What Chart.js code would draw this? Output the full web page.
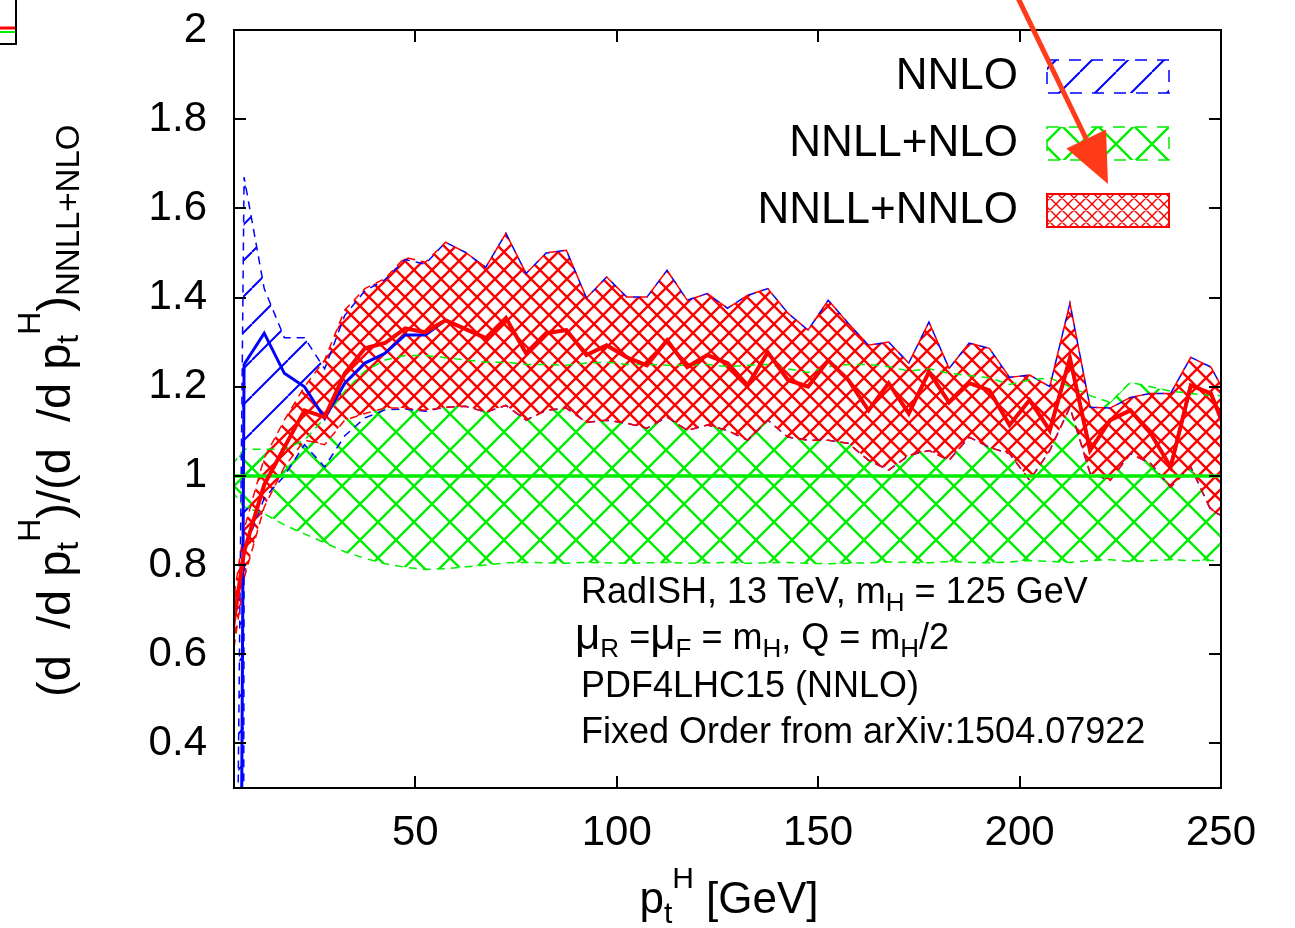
<!DOCTYPE html>
<html>
<head>
<meta charset="utf-8">
<script src="https://cdn.jsdelivr.net/npm/chart.js@4.4.1/dist/chart.umd.min.js"></script>
<style>
  html, body { margin: 0; padding: 0; background: #fff; }
  canvas { display: block; }
</style>
</head>
<body>
<canvas id="c" width="1295" height="928" style="width:1295px;height:928px"></canvas>
<script>
// ---------- data ----------
const ptBins = [2.5, 7.5, 12.5, 17.5, 22.5, 27.5, 32.5, 37.5, 42.5, 47.5, 52.5, 57.5, 62.5, 67.5, 72.5, 77.5, 82.5, 87.5, 92.5, 97.5,
  102.5, 107.5, 112.5, 117.5, 122.5, 127.5, 132.5, 137.5, 142.5, 147.5, 152.5, 157.5, 162.5, 167.5, 172.5, 177.5, 182.5, 187.5, 192.5, 197.5,
  202.5, 207.5, 212.5, 217.5, 222.5, 227.5, 232.5, 237.5, 242.5, 247.5, 252.5];

// NNLL+NNLO (red)
const nnllnnloCentral = [0.52, 0.83, 0.98, 1.064, 1.147, 1.132, 1.23, 1.286, 1.298, 1.331, 1.322, 1.349, 1.329, 1.309, 1.354, 1.275, 1.32, 1.327, 1.271, 1.293,
  1.266, 1.248, 1.304, 1.244, 1.271, 1.253, 1.203, 1.277, 1.215, 1.2, 1.259, 1.215, 1.147, 1.208, 1.14, 1.233, 1.165, 1.208, 1.192, 1.114,
  1.17, 1.102, 1.264, 1.057, 1.125, 1.147, 1.096, 1.02, 1.203, 1.185, 1.07];
const nnllnnloUpper = [0.58, 0.88, 1.04, 1.125, 1.2, 1.26, 1.372, 1.42, 1.443, 1.49, 1.479, 1.524, 1.501, 1.468, 1.544, 1.454, 1.5, 1.506, 1.399, 1.446,
  1.401, 1.401, 1.461, 1.394, 1.409, 1.376, 1.405, 1.42, 1.365, 1.327, 1.394, 1.342, 1.293, 1.3, 1.253, 1.345, 1.241, 1.298, 1.286, 1.221,
  1.226, 1.2, 1.387, 1.154, 1.152, 1.176, 1.185, 1.185, 1.266, 1.244, 1.16];
const nnllnnloLower = [0.46, 0.77, 0.93, 1.02, 1.08, 1.07, 1.125, 1.14, 1.152, 1.152, 1.147, 1.154, 1.156, 1.143, 1.158, 1.125, 1.147, 1.152, 1.12, 1.125,
  1.118, 1.107, 1.132, 1.102, 1.114, 1.102, 1.08, 1.125, 1.087, 1.08, 1.08, 1.073, 1.035, 1.013, 1.046, 1.057, 1.035, 1.087, 1.064, 1.05,
  0.99, 1.057, 1.154, 1.006, 0.99, 1.05, 1.028, 0.975, 1.02, 0.923, 0.9];

// NNLO fixed order (blue)
const nnloCentral = [-7, 1.25, 1.32, 1.23, 1.2, 1.129, 1.208, 1.253, 1.275, 1.316, 1.316, 1.349, 1.329, 1.309, 1.354, 1.275, 1.32, 1.327, 1.271, 1.293,
  1.266, 1.248, 1.304, 1.244, 1.271, 1.253, 1.203, 1.277, 1.215, 1.2, 1.259, 1.215, 1.147, 1.208, 1.14, 1.233, 1.165, 1.208, 1.192, 1.114,
  1.17, 1.102, 1.264, 1.057, 1.125, 1.147, 1.096, 1.02, 1.203, 1.185, 1.07];
const nnloUpper = [-3, 1.67, 1.42, 1.31, 1.31, 1.24, 1.36, 1.415, 1.44, 1.485, 1.475, 1.524, 1.501, 1.468, 1.544, 1.454, 1.5, 1.506, 1.399, 1.446,
  1.401, 1.401, 1.461, 1.394, 1.409, 1.376, 1.405, 1.42, 1.365, 1.327, 1.394, 1.342, 1.293, 1.3, 1.253, 1.345, 1.241, 1.298, 1.286, 1.221,
  1.226, 1.2, 1.387, 1.154, 1.152, 1.176, 1.185, 1.185, 1.266, 1.244, 1.16];
const nnloLower = [-30, 0.83, 0.95, 1.0, 1.07, 1.02, 1.09, 1.13, 1.148, 1.15, 1.145, 1.154, 1.156, 1.143, 1.158, 1.125, 1.147, 1.152, 1.12, 1.125,
  1.118, 1.107, 1.132, 1.102, 1.114, 1.102, 1.08, 1.125, 1.087, 1.08, 1.08, 1.073, 1.035, 1.013, 1.046, 1.057, 1.035, 1.087, 1.064, 1.05,
  0.99, 1.057, 1.154, 1.006, 0.99, 1.05, 1.028, 0.975, 1.02, 0.923, 0.9];

// NNLL+NLO (green), normalisation
const nnllnloX = [2.5, 252.5];
const nnllnloCentral = [1, 1];
const nnllnloUpper = [1.0, 1.06, 1.06, 1.06, 1.08, 1.13, 1.19, 1.235, 1.26, 1.27, 1.27, 1.265, 1.26, 1.255, 1.255, 1.25, 1.25, 1.248, 1.253, 1.255,
  1.25, 1.25, 1.248, 1.248, 1.25, 1.245, 1.248, 1.25, 1.24, 1.232, 1.245, 1.25, 1.25, 1.245, 1.235, 1.24, 1.23, 1.225, 1.22, 1.205,
  1.215, 1.22, 1.2, 1.18, 1.165, 1.21, 1.2, 1.19, 1.185, 1.18, 1.18];
const nnllnloLower = [0.99, 0.93, 0.915, 0.89, 0.87, 0.85, 0.83, 0.815, 0.803, 0.795, 0.79, 0.792, 0.796, 0.8, 0.805, 0.806, 0.805, 0.804, 0.806, 0.805,
  0.804, 0.805, 0.806, 0.804, 0.805, 0.806, 0.804, 0.805, 0.806, 0.804, 0.803, 0.804, 0.805, 0.807, 0.806, 0.805, 0.808, 0.806, 0.805, 0.807,
  0.81, 0.808, 0.806, 0.81, 0.812, 0.808, 0.81, 0.812, 0.81, 0.81, 0.81];

const xTicks = [50, 100, 150, 200, 250];
const xTickLabels = ['50', '100', '150', '200', '250'];
const yTicks = [0.4, 0.6, 0.8, 1.0, 1.2, 1.4, 1.6, 1.8, 2.0];
const yTickLabels = ['0.4', '0.6', '0.8', '1', '1.2', '1.4', '1.6', '1.8', '2'];
const legendLabels = ['NNLO', 'NNLL+NLO', 'NNLL+NNLO'];
const infoLines = ['RadISH, 13 TeV, m', 'PDF4LHC15 (NNLO)', 'Fixed Order from arXiv:1504.07922'];

// ---------- styling ----------
const FF = '"Liberation Sans", Arial, Helvetica, sans-serif';
const RED = '#ff0000', GREEN = '#00ee00', BLUE = '#0000ff';

function hatch(color, s, lw, slash, back, bg) {
  const c = document.createElement('canvas');
  c.width = s; c.height = s;
  const g = c.getContext('2d');
  if (bg) { g.fillStyle = bg; g.fillRect(0, 0, s, s); }
  g.strokeStyle = color; g.lineWidth = lw;
  g.beginPath();
  for (let k = -1; k <= 1; k++) {
    if (slash) { g.moveTo(k * s, s); g.lineTo(k * s + s, 0); }
    if (back) { g.moveTo(k * s, 0); g.lineTo(k * s + s, s); }
  }
  g.stroke();
  return g.createPattern(c, 'repeat');
}
const canvas = document.getElementById('c');
const ctx = canvas.getContext('2d');
const patBlue = hatch(BLUE, 36, 2, true, false, null);
const patGreen = hatch(GREEN, 36, 2.4, true, true, null);
const patRed = hatch(RED, 18, 2.4, true, true, '#ffffff');
const patRedSmall = hatch(RED, 12, 1.4, true, true, '#ffffff');

const pts = (xs, ys) => xs.map((x, i) => ({ x: x, y: ys[i] }));
const base = { pointRadius: 0, tension: 0, clip: 0, fill: false };

const datasets = [
  Object.assign({}, base, { label: 'NNLL+NNLO', data: pts(ptBins, nnllnnloCentral), borderColor: RED, borderWidth: 4 }),
  Object.assign({}, base, { label: 'NNLL+NLO', data: pts(nnllnloX, nnllnloCentral), borderColor: GREEN, borderWidth: 3.5 }),
  Object.assign({}, base, { label: 'NNLO', data: pts(ptBins, nnloCentral), borderColor: BLUE, borderWidth: 3 }),
  Object.assign({}, base, { label: 'NNLL+NNLO up', data: pts(ptBins, nnllnnloUpper), borderColor: RED, borderWidth: 1.5, borderDash: [8, 6], fill: '+1', backgroundColor: patRed }),
  Object.assign({}, base, { label: 'NNLL+NNLO dn', data: pts(ptBins, nnllnnloLower), borderColor: RED, borderWidth: 1.5, borderDash: [8, 6] }),
  Object.assign({}, base, { label: 'NNLL+NLO up', data: pts(ptBins, nnllnloUpper), borderColor: GREEN, borderWidth: 1.5, borderDash: [8, 6], fill: '+1', backgroundColor: patGreen }),
  Object.assign({}, base, { label: 'NNLL+NLO dn', data: pts(ptBins, nnllnloLower), borderColor: GREEN, borderWidth: 1.5, borderDash: [8, 6] }),
  Object.assign({}, base, { label: 'NNLO up', data: pts(ptBins, nnloUpper), borderColor: BLUE, borderWidth: 1.5, borderDash: [8, 6], borderDashOffset: 7, fill: '+1', backgroundColor: patBlue }),
  Object.assign({}, base, { label: 'NNLO dn', data: pts(ptBins, nnloLower), borderColor: BLUE, borderWidth: 1.5, borderDash: [8, 6], borderDashOffset: 7 })
];

function rich(g, x, y, runs, align) {
  let w = 0;
  runs.forEach(r => { g.font = r[1] + 'px ' + FF; r.w = g.measureText(r[0]).width; w += r.w; });
  let cx = align === 'center' ? x - w / 2 : (align === 'right' ? x - w : x);
  g.textAlign = 'left';
  g.textBaseline = 'alphabetic';
  runs.forEach(r => { g.font = r[1] + 'px ' + FF; g.fillText(r[0], cx, y + (r[2] || 0)); cx += r.w; });
}

const decor = {
  id: 'decor',
  afterDraw(chart) {
    const g = chart.ctx;
    const a = chart.chartArea;
    const xs = chart.scales.x, ys = chart.scales.y;
    g.save();
    // frame
    g.strokeStyle = '#000'; g.lineWidth = 2; g.setLineDash([]);
    g.strokeRect(a.left, a.top, a.right - a.left, a.bottom - a.top);
    // inward ticks
    g.beginPath();
    yTicks.forEach(v => {
      const p = Math.round(ys.getPixelForValue(v));
      g.moveTo(a.left, p); g.lineTo(a.left + 12, p);
      g.moveTo(a.right, p); g.lineTo(a.right - 12, p);
    });
    xTicks.forEach(v => {
      const p = Math.round(xs.getPixelForValue(v));
      g.moveTo(p, a.bottom); g.lineTo(p, a.bottom - 12);
      g.moveTo(p, a.top); g.lineTo(p, a.top + 12);
    });
    g.stroke();

    // legend
    g.fillStyle = '#000';
    g.font = '44px ' + FF; g.textAlign = 'right'; g.textBaseline = 'middle';
    const rows = [77, 144, 211];
    legendLabels.forEach((t, i) => g.fillText(t, 1018, rows[i]));
    const sw = [[patBlue, BLUE, true], [patGreen, GREEN, true], [patRedSmall, RED, false]];
    sw.forEach((s, i) => {
      const y0 = rows[i] - 17;
      g.fillStyle = s[0]; g.fillRect(1047, y0, 122, 33);
      g.strokeStyle = s[1]; g.lineWidth = s[2] ? 1.5 : 2;
      g.setLineDash(s[2] ? [12, 10] : []);
      g.strokeRect(1047, y0, 122, 33);
    });
    g.setLineDash([]);

    // info text
    g.fillStyle = '#000';
    rich(g, 581, 603, [[infoLines[0], 36], ['H', 26, 8], [' = 125 GeV', 36]], 'left');
    rich(g, 575, 649, [['\u03bc', 44], ['R', 26, 8], [' =', 36], ['\u03bc', 44], ['F', 26, 8], [' = m', 36], ['H', 26, 8], [', Q = m', 36], ['H', 26, 8], ['/2', 36]], 'left');
    rich(g, 581, 697, [[infoLines[1], 36]], 'left');
    rich(g, 581, 743, [[infoLines[2], 36]], 'left');

    // x title
    rich(g, 729, 913, [['p', 44], ['t', 30, 10], ['H', 30, -25], [' [GeV]', 44]], 'center');

    // y title (rotated)
    g.save();
    g.translate(70, 697);
    g.rotate(-Math.PI / 2);
    rich(g, 0, 0, [['(d  /d p', 47], ['t', 32, 8], ['H', 32, -30], [')/(d  /d p', 47], ['t', 32, 8], ['H', 32, -30], [')', 47], ['NNLL+NLO', 33, 9]], 'left');
    g.restore();

    // arrow
    g.strokeStyle = '#ff3b1a'; g.fillStyle = '#ff3b1a'; g.lineWidth = 5;
    const x0 = 1018, y0 = -2, x1 = 1108, y1 = 184;
    const L = Math.hypot(x1 - x0, y1 - y0), ux = (x1 - x0) / L, uy = (y1 - y0) / L;
    const hl = 50, hw = 22;
    g.beginPath(); g.moveTo(x0, y0); g.lineTo(x1 - ux * hl, y1 - uy * hl); g.stroke();
    g.beginPath();
    g.moveTo(x1, y1);
    g.lineTo(x1 - ux * hl - uy * hw, y1 - uy * hl + ux * hw);
    g.lineTo(x1 - ux * hl + uy * hw, y1 - uy * hl - ux * hw);
    g.closePath(); g.fill();

    // fragment of neighbouring panel (top-left)
    g.strokeStyle = '#000'; g.lineWidth = 2;
    g.beginPath(); g.moveTo(16, 0); g.lineTo(16, 44); g.lineTo(0, 44); g.stroke();
    g.lineWidth = 3; g.strokeStyle = RED; g.beginPath(); g.moveTo(0, 28); g.lineTo(15, 28); g.stroke();
    g.lineWidth = 2; g.strokeStyle = GREEN; g.beginPath(); g.moveTo(0, 32); g.lineTo(15, 32); g.stroke();
    g.restore();
  }
};

new Chart(ctx, {
  type: 'line',
  data: { datasets: datasets },
  options: {
    responsive: false,
    animation: false,
    devicePixelRatio: 1,
    layout: { padding: { left: 0, right: 74, top: 30, bottom: 0 } },
    plugins: {
      legend: { display: false },
      tooltip: { enabled: false },
      filler: { drawTime: 'beforeDatasetsDraw', propagate: false }
    },
    scales: {
      x: {
        type: 'linear', min: 5, max: 250,
        grid: { display: false, drawTicks: false },
        border: { display: false },
        afterBuildTicks: s => { s.ticks = xTicks.map(v => ({ value: v })); },
        afterFit: s => { s.height = 140; s.paddingLeft = 0; s.paddingRight = 0; },
        ticks: { autoSkip: false, maxRotation: 0, padding: 20, color: '#000', font: { family: FF, size: 42 },
          callback: (v, i) => xTickLabels[i] }
      },
      y: {
        type: 'linear', min: 0.3, max: 2,
        grid: { display: false, drawTicks: false },
        border: { display: false },
        afterBuildTicks: s => { s.ticks = yTicks.map(v => ({ value: v })); },
        afterFit: s => { s.width = 234; s.paddingTop = 0; s.paddingBottom = 0; },
        ticks: { autoSkip: false, padding: 27, color: '#000', font: { family: FF, size: 42 },
          callback: (v, i) => yTickLabels[i] }
      }
    }
  },
  plugins: [decor]
});
</script>
</body>
</html>
